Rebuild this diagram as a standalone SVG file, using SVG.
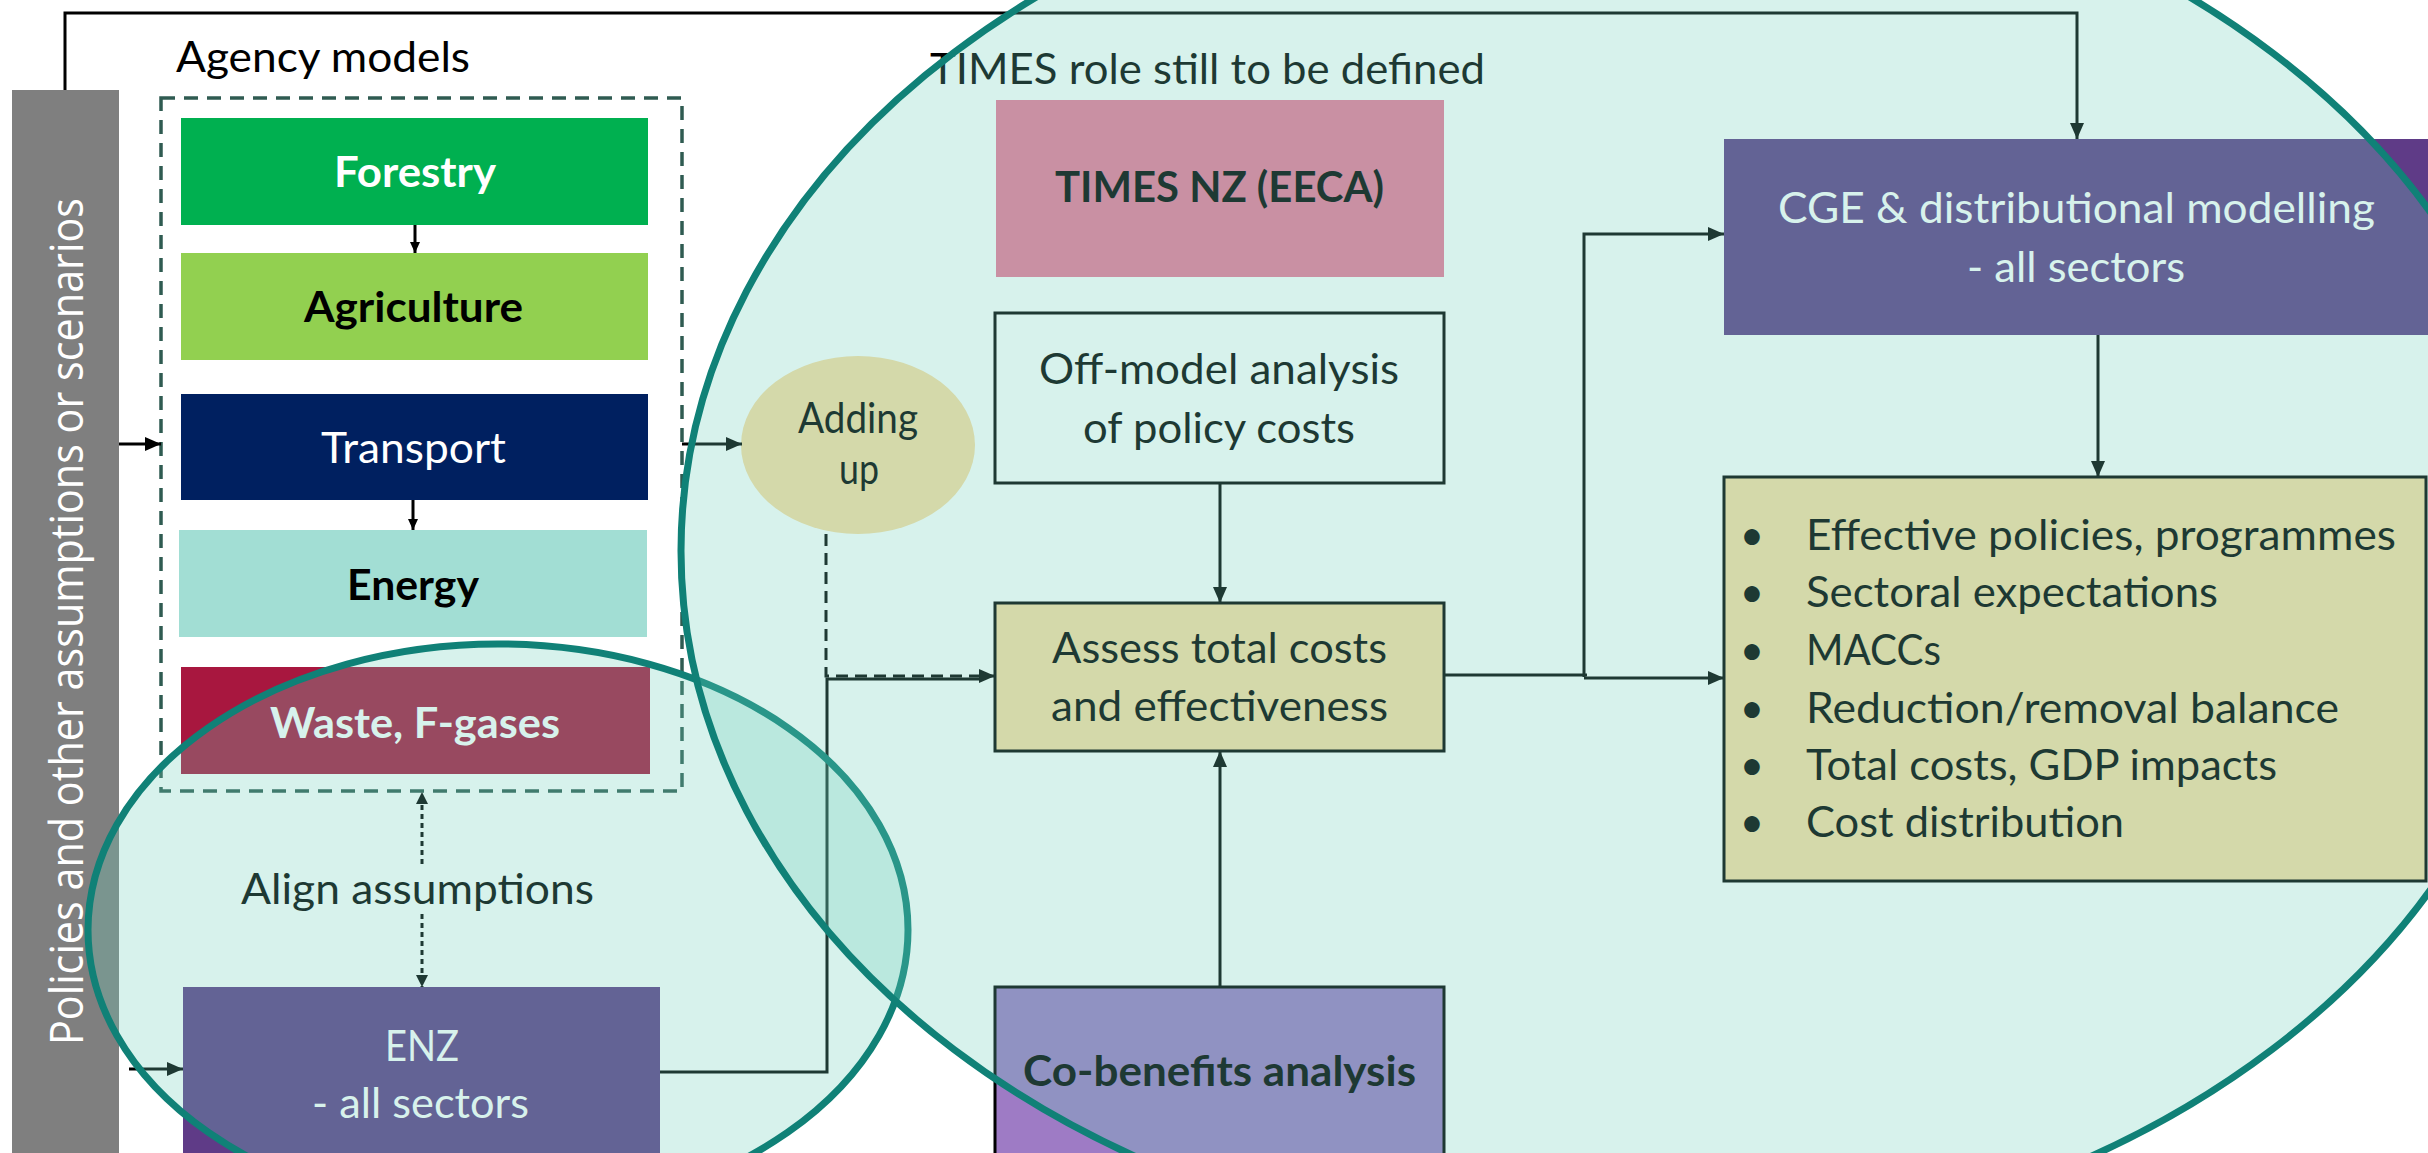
<svg xmlns="http://www.w3.org/2000/svg" width="2428" height="1153" viewBox="0 0 2428 1153">
<defs>
<style>
.t{font-family:Lato,'Open Sans','Liberation Sans',sans-serif;font-size:42px;}
.b{font-weight:bold;}
.dk{fill:#000000;}
.wt{fill:#ffffff;}
.ln{fill:none;stroke:#000000;stroke-width:3;}
.box{stroke:#000000;stroke-width:3;}
.ov{fill:#6ccfb9;fill-opacity:0.273;stroke:#108177;stroke-width:7;}
</style>
<marker id="arr" markerUnits="userSpaceOnUse" markerWidth="16" markerHeight="14" refX="16" refY="7" orient="auto"><path d="M0,0 L16,7 L0,14 z" fill="#000"/></marker>
<marker id="arrs" markerUnits="userSpaceOnUse" markerWidth="11" markerHeight="10" refX="11" refY="5" orient="auto"><path d="M0,0 L11,5 L0,10 z" fill="#000"/></marker>
<marker id="arrd" markerUnits="userSpaceOnUse" markerWidth="12" markerHeight="12" refX="12" refY="6" orient="auto"><path d="M0,0 L12,6 L0,12 z" fill="#000"/></marker>
</defs>
<rect width="2428" height="1153" fill="#ffffff"/>

<g id="policies">
<rect x="12" y="90" width="107" height="1063" fill="#7f7f7f"/>
<text transform="translate(83,1045) rotate(-90)" font-family="'Open Sans','Noto Sans',sans-serif" font-size="46" fill="#ffffff" textLength="847" lengthAdjust="spacingAndGlyphs">Policies and other assumptions or scenarios</text>
</g>

<g id="agency-models">
<rect x="161" y="98" width="521" height="693" fill="none" stroke="#2f5b51" stroke-width="3.5" stroke-dasharray="14 9"/>
<text class="t dk" x="176" y="72" textLength="294" lengthAdjust="spacingAndGlyphs">Agency models</text>
</g>

<g id="forestry">
<rect x="181" y="118" width="467" height="107" fill="#00b050"/>
<text class="t b wt" x="334" y="187" textLength="162" lengthAdjust="spacingAndGlyphs">Forestry</text>
</g>
<g id="agriculture">
<rect x="181" y="253" width="467" height="107" fill="#92d050"/>
<text class="t b dk" x="304" y="322" textLength="219" lengthAdjust="spacingAndGlyphs">Agriculture</text>
</g>
<g id="transport">
<rect x="181" y="394" width="467" height="106" fill="#002060"/>
<text class="t wt" x="321" y="463" textLength="185" lengthAdjust="spacingAndGlyphs">Transport</text>
</g>
<g id="energy">
<rect x="179" y="530" width="468" height="107" fill="#a2ded4"/>
<text class="t b dk" x="347" y="600" textLength="132" lengthAdjust="spacingAndGlyphs">Energy</text>
</g>
<g id="waste">
<rect x="181" y="667" width="469" height="107" fill="#a8173f"/>
<text class="t b wt" x="270" y="738" textLength="290" lengthAdjust="spacingAndGlyphs">Waste, F-gases</text>
</g>

<g id="align-label">
<text class="t dk" x="241" y="904" textLength="353" lengthAdjust="spacingAndGlyphs">Align assumptions</text>
</g>

<g id="enz">
<rect x="183" y="987" width="477" height="170" fill="#5f3b87"/>
<text class="t wt" x="385" y="1061" textLength="74" lengthAdjust="spacingAndGlyphs">ENZ</text>
<text class="t wt" x="312" y="1118" textLength="217" lengthAdjust="spacingAndGlyphs">- all sectors</text>
</g>

<g id="times-role-label">
<text class="t dk" x="930" y="84" textLength="555" lengthAdjust="spacingAndGlyphs">TIMES role still to be defined</text>
</g>

<g id="times-nz">
<rect x="996" y="100" width="448" height="177" fill="#ec789b"/>
<text class="t b dk" x="1055" y="202" textLength="329" lengthAdjust="spacingAndGlyphs">TIMES NZ (EECA)</text>
</g>

<g id="off-model">
<rect class="box" x="995" y="313" width="449" height="170" fill="none"/>
<text class="t dk" x="1039" y="384" textLength="360" lengthAdjust="spacingAndGlyphs">Off-model analysis</text>
<text class="t dk" x="1083" y="443" textLength="272" lengthAdjust="spacingAndGlyphs">of policy costs</text>
</g>

<g id="adding-up">
<ellipse cx="858" cy="445" rx="117" ry="89" fill="#fbdda4"/>
<text class="t dk" x="798" y="433" font-size="38" textLength="120" lengthAdjust="spacingAndGlyphs">Adding</text>
<text class="t dk" x="839" y="484" font-size="38" textLength="40" lengthAdjust="spacingAndGlyphs">up</text>
</g>

<g id="assess">
<rect class="box" x="995" y="603" width="449" height="148" fill="#fbdda4"/>
<text class="t dk" x="1052" y="663" textLength="335" lengthAdjust="spacingAndGlyphs">Assess total costs</text>
<text class="t dk" x="1051" y="721" textLength="337" lengthAdjust="spacingAndGlyphs">and effectiveness</text>
</g>

<g id="co-benefits">
<rect class="box" x="995" y="987" width="449" height="180" fill="#9e7bc5"/>
<text class="t b dk" x="1023" y="1086" textLength="393" lengthAdjust="spacingAndGlyphs">Co-benefits analysis</text>
</g>

<g id="cge">
<rect x="1724" y="139" width="710" height="196" fill="#5f3b87"/>
<text class="t wt" x="1778" y="223" textLength="597" lengthAdjust="spacingAndGlyphs">CGE &amp; distributional modelling</text>
<text class="t wt" x="1967" y="282" textLength="218" lengthAdjust="spacingAndGlyphs">- all sectors</text>
</g>

<g id="results">
<rect class="box" x="1724" y="477" width="702" height="404" fill="#fbdda4"/>
<g class="t dk" text-anchor="middle">
<text x="1752" y="550">•</text>
<text x="1752" y="607">•</text>
<text x="1752" y="665">•</text>
<text x="1752" y="723">•</text>
<text x="1752" y="780">•</text>
<text x="1752" y="837">•</text>
</g>
<text class="t dk" x="1806" y="550" textLength="590" lengthAdjust="spacingAndGlyphs">Effective policies, programmes</text>
<text class="t dk" x="1806" y="607" textLength="412" lengthAdjust="spacingAndGlyphs">Sectoral expectations</text>
<text class="t dk" x="1806" y="665" textLength="135" lengthAdjust="spacingAndGlyphs">MACCs</text>
<text class="t dk" x="1806" y="723" textLength="533" lengthAdjust="spacingAndGlyphs">Reduction/removal balance</text>
<text class="t dk" x="1806" y="780" textLength="471" lengthAdjust="spacingAndGlyphs">Total costs, GDP impacts</text>
<text class="t dk" x="1806" y="837" textLength="318" lengthAdjust="spacingAndGlyphs">Cost distribution</text>
</g>

<g id="connectors">
<polyline class="ln" points="65,90 65,13 2077,13 2077,139" marker-end="url(#arr)"/>
<line class="ln" x1="119" y1="444" x2="161" y2="444" marker-end="url(#arr)"/>
<line class="ln" x1="415" y1="225" x2="415" y2="253" stroke-width="2" marker-end="url(#arrs)"/>
<line class="ln" x1="413" y1="500" x2="413" y2="530" stroke-width="2" marker-end="url(#arrs)"/>
<line class="ln" x1="682" y1="444" x2="742" y2="444" marker-end="url(#arr)"/>
<polyline class="ln" points="826,534 826,676 995,676" stroke-width="4" stroke-dasharray="12 7" marker-end="url(#arr)"/>
<polyline class="ln" points="660,1072 827,1072 827,679 980,679"/>
<line class="ln" x1="129" y1="1069" x2="183" y2="1069" marker-end="url(#arr)"/>
<line class="ln" x1="422" y1="864" x2="422" y2="792" stroke-width="1.5" stroke-dasharray="5 4" marker-end="url(#arrd)"/>
<line class="ln" x1="422" y1="914" x2="422" y2="987" stroke-width="1.5" stroke-dasharray="5 4" marker-end="url(#arrd)"/>
<line class="ln" x1="1220" y1="483" x2="1220" y2="603" marker-end="url(#arr)"/>
<line class="ln" x1="1220" y1="987" x2="1220" y2="751" marker-end="url(#arr)"/>
<line class="ln" x1="1444" y1="675" x2="1587" y2="675" stroke-width="6"/>
<polyline class="ln" points="1584,677 1584,234 1724,234" stroke-width="5" marker-end="url(#arr)"/>
<line class="ln" x1="1584" y1="678" x2="1724" y2="678" marker-end="url(#arr)"/>
<line class="ln" x1="2098" y1="335" x2="2098" y2="477" marker-end="url(#arr)"/>
</g>

<g id="enz-region">
<ellipse class="ov" cx="498" cy="930" rx="410" ry="286"/>
</g>
<g id="times-region">
<ellipse class="ov" cx="1613" cy="551" rx="932" ry="705"/>
</g>
</svg>
